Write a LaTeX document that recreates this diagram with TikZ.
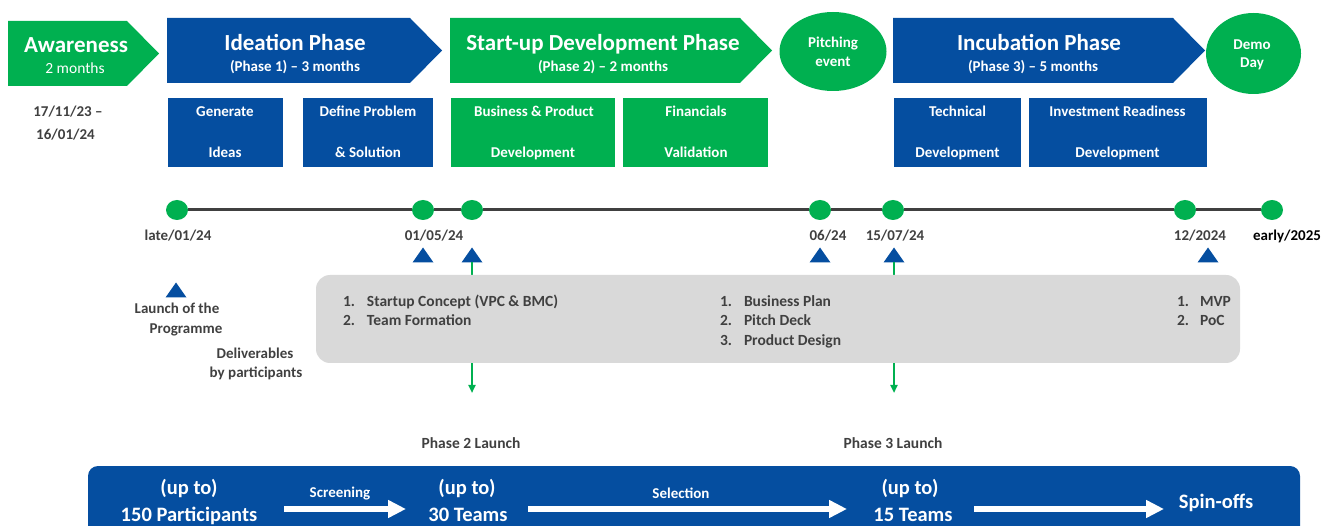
\documentclass[tikz,border=0pt]{standalone}
\usepackage{fontspec}
\setmainfont{Carlito}
\usetikzlibrary{shapes.geometric,arrows.meta}
\definecolor{pblue}{RGB}{5,78,160}
\definecolor{pgreen}{RGB}{0,176,80}
\definecolor{dgray}{RGB}{64,64,64}
\definecolor{lgray}{RGB}{217,217,217}
\begin{document}
\begin{tikzpicture}[x=1pt,y=-1pt,
  every node/.style={inner sep=0pt,outer sep=0pt},
  bigtitle/.style={text=white,font=\fontsize{23}{26}\selectfont\bfseries,anchor=base},
  subtitle/.style={text=white,font=\fontsize{15}{18}\selectfont\bfseries,anchor=base},
  lighttitle/.style={text=white,font=\fontsize{15.5}{18}\selectfont,anchor=base},
  boxtext/.style={text=white,font=\fontsize{15}{18}\selectfont\bfseries,anchor=base},
  darktext/.style={text=dgray,font=\fontsize{15}{18}\selectfont\bfseries,anchor=base},
  launchtext/.style={text=dgray,font=\fontsize{15.5}{18}\selectfont\bfseries,anchor=base},
  listtext/.style={text=dgray,font=\fontsize{15.5}{18}\selectfont\bfseries,anchor=base west},
  bottomtext/.style={text=white,font=\fontsize{20.5}{24}\selectfont\bfseries,anchor=base},
  arrowlabel/.style={text=white,font=\fontsize{15}{17}\selectfont\bfseries,anchor=base},
  taskbox/.style={rectangle,minimum height=69pt},
  tdot/.style={ellipse,fill=pgreen,minimum width=22pt,minimum height=20pt},
  marker/.style={fill=pblue},
  whitearrow/.style={white,line width=6pt,-{Triangle[length=18pt,width=17pt]}},
  greenarrow/.style={pgreen,line width=2.5pt,-{Triangle[length=8pt,width=7pt]}}
]
\useasboundingbox (0,0) rectangle (1336,526);

% ---------- phase chevrons ----------
\fill[pgreen] (8,21) -- (127,21) -- (159,53.5) -- (127,86) -- (8,86) -- cycle;
\fill[pblue] (167,18) -- (410,18) -- (442,50.5) -- (410,83) -- (167,83) -- cycle;
\fill[pgreen] (450,18) -- (740,18) -- (772,50.5) -- (740,83) -- (450,83) -- cycle;
\fill[pblue] (893,18) -- (1173,18) -- (1205,50.5) -- (1173,83) -- (893,83) -- cycle;

\node[bigtitle] (aw) at (76,53) {Awareness};
\node[lighttitle] (aw2) at (75,74) {2 months};
\node[bigtitle] (id) at (295,51) {Ideation Phase};
\node[subtitle] (id2) at (295,72) {(Phase 1) – 3 months};
\node[bigtitle] (sd) at (603,51) {Start-up Development Phase};
\node[subtitle] (sd2) at (603,72) {(Phase 2) – 2 months};
\node[bigtitle] (inc) at (1039,51) {Incubation Phase};
\node[subtitle] (inc2) at (1033,72) {(Phase 3) – 5 months};

% ---------- events ----------
\node[ellipse,fill=pgreen,minimum width=107pt,minimum height=79pt] (pitch) at (833,51.5) {};
\node[boxtext] (pitch1) at (833,48) {Pitching};
\node[boxtext] (pitch2) at (833,67) {event};
\node[ellipse,fill=pgreen,minimum width=95pt,minimum height=81pt] (demo) at (1253.5,53.5) {};
\node[boxtext] (demo1) at (1252,50) {Demo};
\node[boxtext] (demo2) at (1252,68) {Day};

% ---------- task boxes ----------
\node[taskbox,fill=pblue,minimum width=115pt] (t1) at (225.5,132.5) {};
\node[boxtext] (t1a) at (225,117) {Generate};
\node[boxtext] (t1b) at (225,158) {Ideas};
\node[taskbox,fill=pblue,minimum width=130pt] (t2) at (368,132.5) {};
\node[boxtext] (t2a) at (368,117) {Define Problem};
\node[boxtext] (t2b) at (368,158) {\& Solution};
\node[taskbox,fill=pgreen,minimum width=164pt] (t3) at (533,132.5) {};
\node[boxtext] (t3a) at (534,117) {Business \& Product};
\node[boxtext] (t3b) at (533,158) {Development};
\node[taskbox,fill=pgreen,minimum width=145pt] (t4) at (695.5,132.5) {};
\node[boxtext] (t4a) at (696,117) {Financials};
\node[boxtext] (t4b) at (696,158) {Validation};
\node[taskbox,fill=pblue,minimum width=127pt] (t5) at (957.5,132.5) {};
\node[boxtext] (t5a) at (957.5,117) {Technical};
\node[boxtext] (t5b) at (957.5,158) {Development};
\node[taskbox,fill=pblue,minimum width=178pt] (t6) at (1118,132.5) {};
\node[boxtext] (t6a) at (1117.5,117) {Investment Readiness};
\node[boxtext] (t6b) at (1117.5,158) {Development};

\node[darktext] (aw3) at (68,117) {17/11/23 –};
\node[darktext] (aw4) at (65.5,140) {16/01/24};

% ---------- timeline ----------
\node[tdot] (d1) at (177,210) {};
\node[tdot] (d2) at (423,210) {};
\node[tdot] (d3) at (472,210) {};
\node[tdot] (d4) at (820,210) {};
\node[tdot] (d5) at (893,210) {};
\node[tdot] (d6) at (1185,210) {};
\node[tdot] (d7) at (1272,210) {};
\draw[dgray,line width=3pt] (d1) -- (d2) -- (d3) -- (d4) -- (d5) -- (d6) -- (d7);

\node[darktext] (l1) at (178,241) {late/01/24};
\node[darktext] (l2) at (434,241) {01/05/24};
\node[darktext] (l4) at (828,241) {06/24};
\node[darktext] (l5) at (895,241) {15/07/24};
\node[darktext] (l6) at (1200,241) {12/2024};
\node[darktext,text=black] (l7) at (1287,241) {early/2025};

% ---------- markers ----------
\coordinate (m1) at (423,255);
\coordinate (m2) at (472,255);
\coordinate (m3) at (820,255);
\coordinate (m4) at (894,255);
\coordinate (m5) at (1208,255);
\coordinate (m0) at (176,290);
\foreach \m in {m0,m1,m2,m3,m4,m5}
  \fill[marker] (\m) ++(-10.5,7.5) -- ++(21,0) -- ++(-10.5,-15) -- cycle;

% ---------- launch arrows ----------
\coordinate (g2a) at (472,262);
\coordinate (g2b) at (472,393);
\coordinate (g3a) at (894,262);
\coordinate (g3b) at (894,393);
\draw[greenarrow] (g2a) -- (g2b);
\draw[greenarrow] (g3a) -- (g3b);

% ---------- deliverables ----------
\node[fill=lgray,rounded corners=14pt,minimum width=924pt,minimum height=88pt] (deliv) at (778,319) {};
\node[listtext] (p1) at (343,307) {\makebox[24pt][l]{1.}Startup Concept (VPC \& BMC)};
\node[listtext] (p2) at (343,326) {\makebox[24pt][l]{2.}Team Formation};
\node[listtext] (q1) at (720,307) {\makebox[24pt][l]{1.}Business Plan};
\node[listtext] (q2) at (720,326) {\makebox[24pt][l]{2.}Pitch Deck};
\node[listtext] (q3) at (720,346) {\makebox[24pt][l]{3.}Product Design};
\node[listtext] (r1) at (1177,307) {\makebox[23pt][l]{1.}MVP};
\node[listtext] (r2) at (1177,326) {\makebox[23pt][l]{2.}PoC};

\node[darktext] (la1) at (177,314) {Launch of the};
\node[darktext] (la2) at (186,334) {Programme};
\node[darktext] (dl1) at (255,359) {Deliverables};
\node[darktext] (dl2) at (256,378) {by participants};

\node[launchtext] (ph2) at (471,448) {Phase 2 Launch};
\node[launchtext] (ph3) at (893,448) {Phase 3 Launch};

% ---------- funnel bar ----------
\node[fill=pblue,rounded corners=10pt,minimum width=1212pt,minimum height=100pt,anchor=north west] (bar) at (88,466) {};
\node[bottomtext] (f1a) at (189,494) {(up to)};
\node[bottomtext] (f1b) at (189,521) {150 Participants};
\node[bottomtext] (f2a) at (467,494) {(up to)};
\node[bottomtext] (f2b) at (468,521) {30 Teams};
\node[bottomtext] (f3a) at (910,494) {(up to)};
\node[bottomtext] (f3b) at (913,521) {15 Teams};
\node[bottomtext] (f4) at (1216,508) {Spin-offs};

\coordinate (w1s) at (284,509);
\coordinate (w1e) at (406,509);
\coordinate (w2s) at (528,509);
\coordinate (w2e) at (847,509);
\coordinate (w3s) at (974,509);
\coordinate (w3e) at (1164,509);
\draw[whitearrow] (w1s) -- (w1e);
\draw[whitearrow] (w2s) -- (w2e);
\draw[whitearrow] (w3s) -- (w3e);
\node[arrowlabel] (scr) at (340,497) {Screening};
\node[arrowlabel] (sel) at (681,498) {Selection};
\end{tikzpicture}
\end{document}
